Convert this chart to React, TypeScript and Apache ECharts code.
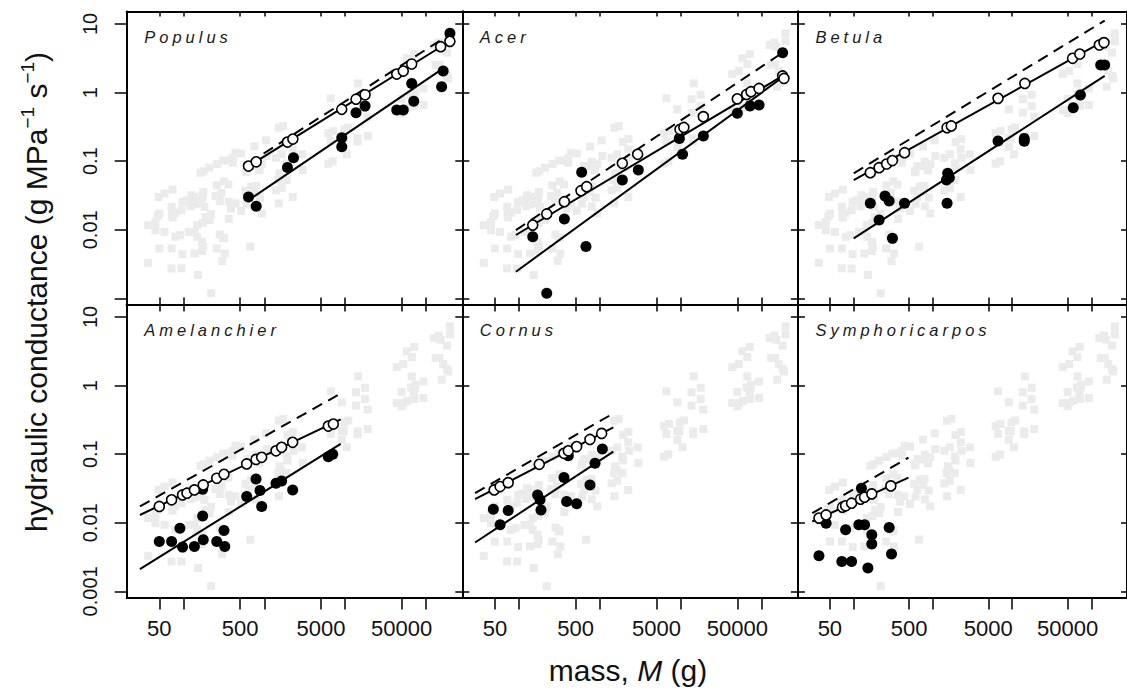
import React, { useEffect, useRef } from "react";
import * as echarts from "echarts";

// ---------- data (mass M in g, hydraulic conductance K in g MPa^-1 s^-1) ----------
const speciesNames = ["Populus", "Acer", "Betula", "Amelanchier", "Cornus", "Symphoricarpos"];

const populusOpen = [[635, 0.085], [791, 0.098], [1928, 0.19], [2249, 0.21], [9060, 0.57], [13600, 0.8], [17600, 0.93], [43400, 1.86], [52300, 2.06], [66500, 2.61], [151800, 4.67], [197700, 5.58]];
const populusFilled = [[635, 0.03], [791, 0.022], [1928, 0.081], [2290, 0.112], [9060, 0.219], [9060, 0.162], [13600, 0.51], [17600, 0.635], [43400, 0.556], [52300, 0.556], [66500, 1.36], [70500, 0.75], [163000, 2.06], [156000, 1.22], [197700, 7.3]];
const populusFitOpen = [[635, 0.0845], [209000, 5.84]];
const populusFitFilled = [[635, 0.027], [163000, 2.25]];
const populusFitDashed = [[635, 0.0935], [209000, 7.39]];

const acerOpen = [[147, 0.0117], [219, 0.017], [362, 0.0257], [582, 0.0372], [684, 0.0425], [1889, 0.093], [2924, 0.126], [9770, 0.29], [10900, 0.31], [19000, 0.446], [50000, 0.81], [65300, 0.94], [73900, 1.03], [92900, 1.15], [182000, 1.75], [189000, 1.61]];
const acerFilled = [[147, 0.0079], [219, 0.00119], [362, 0.0144], [593, 0.069], [670, 0.0057], [1889, 0.053], [2980, 0.0744], [9590, 0.215], [10500, 0.126], [19000, 0.233], [50000, 0.5], [71800, 0.64], [92900, 0.66], [182000, 3.82]];
const acerFitOpen = [[91, 0.0084], [200000, 1.87]];
const acerFitFilled = [[91, 0.00245], [182000, 1.67]];
const acerFitDashed = [[91, 0.0099], [177000, 3.74]];

const betulaOpen = [[162, 0.068], [209, 0.0805], [260, 0.091], [308, 0.102], [438, 0.133], [1507, 0.308], [1705, 0.326], [6630, 0.824], [14450, 1.36], [57800, 3.16], [71300, 3.65], [126000, 4.94], [144000, 5.35]];
const betulaFilled = [[162, 0.0243], [209, 0.0139], [248, 0.0311], [280, 0.0263], [308, 0.0075], [438, 0.0243], [1507, 0.0243], [1536, 0.0666], [1610, 0.0575], [1480, 0.053], [6630, 0.197], [14200, 0.215], [14200, 0.195], [58900, 0.6], [72600, 0.92], [131000, 2.53], [147000, 2.53]];
const betulaFitOpen = [[100, 0.053], [150000, 5.8]];
const betulaFitFilled = [[100, 0.0075], [147000, 1.75]];
const betulaFitDashed = [[100, 0.0666], [147000, 11.2]];

const amelanchierOpen = [[50, 0.0173], [71, 0.0216], [97, 0.0255], [110, 0.027], [136, 0.0301], [175, 0.0356], [257, 0.0446], [316, 0.0509], [603, 0.072], [787, 0.084], [925, 0.09], [1391, 0.112], [1634, 0.126], [2237, 0.149], [6180, 0.257], [7130, 0.275]];
const amelanchierFilled = [[50, 0.00534], [71, 0.00534], [90, 0.00835], [97, 0.00442], [136, 0.00452], [172, 0.0126], [172, 0.0308], [175, 0.00565], [257, 0.00534], [316, 0.0077], [323, 0.00452], [603, 0.0241], [787, 0.0436], [881, 0.0295], [925, 0.0173], [1391, 0.0377], [1634, 0.0408], [2237, 0.0301], [6180, 0.092], [7000, 0.0995]];
const amelanchierFitOpen = [[28.8, 0.013], [8790, 0.321]];
const amelanchierFitFilled = [[28.8, 0.00211], [8790, 0.141]];
const amelanchierFitDashed = [[28.8, 0.0173], [8790, 0.768]];

const cornusOpen = [[49, 0.0301], [58, 0.0337], [73, 0.0385], [177, 0.0713], [358, 0.103], [405, 0.112], [514, 0.129], [751, 0.164], [1048, 0.201]];
const cornusFilled = [[47.8, 0.0158], [73, 0.0151], [58, 0.00933], [169, 0.0255], [181, 0.0216], [186, 0.0154], [358, 0.0456], [386, 0.0204], [514, 0.0189], [405, 0.095], [751, 0.0356], [867, 0.0737], [1069, 0.119]];
const cornusFitOpen = [[28.4, 0.0221], [1462, 0.246]];
const cornusFitFilled = [[28.4, 0.00516], [1462, 0.109]];
const cornusFitDashed = [[28.4, 0.027], [1462, 0.393]];

const symphoricarposOpen = [[36.4, 0.0117], [44.8, 0.013], [72, 0.0169], [79, 0.0177], [94, 0.0193], [122, 0.0221], [137, 0.0236], [169, 0.0264], [294, 0.0345]];
const symphoricarposFilled = [[44.8, 0.00987], [36.4, 0.0033], [79, 0.00789], [70.8, 0.00273], [94, 0.00273], [116, 0.00933], [137, 0.00933], [125, 0.0319], [169, 0.00668], [169, 0.00489], [151, 0.00219], [280, 0.00853], [300, 0.0035]];
const symphoricarposFitOpen = [[30, 0.01044], [491, 0.0456]];
const symphoricarposFitFilled: number[][] = [];
const symphoricarposFitDashed = [[30, 0.0138], [491, 0.089]];

const xTickValues = [50, 100, 500, 1000, 5000, 10000, 50000, 100000];
const xTickLabels = ["50", "500", "5000", "50000"];
const yTickValues = [0.001, 0.01, 0.1, 1, 10];
const yTickLabelsTop = ["0.01", "0.1", "1", "10"];
const yTickLabelsBottom = ["0.001", "0.01", "0.1", "1", "10"];

const panels = [
  { name: speciesNames[0], open: populusOpen, filled: populusFilled, fitOpen: populusFitOpen, fitFilled: populusFitFilled, fitDashed: populusFitDashed },
  { name: speciesNames[1], open: acerOpen, filled: acerFilled, fitOpen: acerFitOpen, fitFilled: acerFitFilled, fitDashed: acerFitDashed },
  { name: speciesNames[2], open: betulaOpen, filled: betulaFilled, fitOpen: betulaFitOpen, fitFilled: betulaFitFilled, fitDashed: betulaFitDashed },
  { name: speciesNames[3], open: amelanchierOpen, filled: amelanchierFilled, fitOpen: amelanchierFitOpen, fitFilled: amelanchierFitFilled, fitDashed: amelanchierFitDashed },
  { name: speciesNames[4], open: cornusOpen, filled: cornusFilled, fitOpen: cornusFitOpen, fitFilled: cornusFitFilled, fitDashed: cornusFitDashed },
  { name: speciesNames[5], open: symphoricarposOpen, filled: symphoricarposFilled, fitOpen: symphoricarposFitOpen, fitFilled: symphoricarposFitFilled, fitDashed: symphoricarposFitDashed },
];

// ---------- layout ----------
const PLOT_LEFT = 126.7;
const PLOT_TOP = 11.5;
const PANEL_W = 335.6;
const PANEL_H = 293;
const X_MIN = 1.2955;
const X_MAX = 5.449;
const Y_MIN = -3.089;
const Y_MAX = 1.182;
const FONT = "'Liberation Sans', Arial, Helvetica, sans-serif";

const lg = (v: number) => Math.log10(v);
const toLog = (pts: number[][]) => pts.map(([m, k]) => [lg(m), lg(k)]);
const findLabel = (labels: string[], v: number) => {
  const l = labels.find((s) => Math.abs(lg(Number(s)) - v) < 1e-6);
  return l === undefined ? "" : l;
};

function buildOption() {
  const grids: any[] = [];
  const xAxes: any[] = [];
  const yAxes: any[] = [];
  const series: any[] = [];
  const graphics: any[] = [];
  const allPoints = panels.flatMap((p) => [...p.filled, ...p.open]);

  panels.forEach((p, i) => {
    const r = Math.floor(i / 3);
    const c = i % 3;
    const left = PLOT_LEFT + PANEL_W * c;
    const top = PLOT_TOP + PANEL_H * r;
    const yLabels = r === 0 ? yTickLabelsTop : yTickLabelsBottom;
    grids.push({ left, top, width: PANEL_W, height: PANEL_H, show: false, containLabel: false });
    const line = { show: true, onZero: false, lineStyle: { color: "#000", width: 2 } };
    const xBase = { type: "value", gridIndex: i, min: X_MIN, max: X_MAX, splitLine: { show: false }, axisLine: line };
    const yBase = { type: "value", gridIndex: i, min: Y_MIN, max: Y_MAX, splitLine: { show: false }, axisLine: line };
    xAxes.push({
      ...xBase,
      position: "bottom",
      axisTick: { show: true, customValues: xTickValues.map(lg), length: r === 1 ? 12 : 7, inside: false, lineStyle: { color: "#000", width: 1.5 } },
      axisLabel: {
        show: r === 1,
        customValues: xTickLabels.map((s) => lg(Number(s))),
        formatter: (v: number) => findLabel(xTickLabels, v),
        fontSize: 22,
        fontFamily: FONT,
        color: "#111",
        margin: 20,
      },
    });
    xAxes.push({
      ...xBase,
      position: "top",
      axisTick: { show: true, customValues: xTickValues.map(lg), length: r === 0 ? 5 : 7, inside: r === 0, lineStyle: { color: "#000", width: 1.5 } },
      axisLabel: { show: false },
    });
    yAxes.push({
      ...yBase,
      position: "left",
      axisTick: { show: true, customValues: yTickValues.map(lg), length: c === 0 ? 12 : 7, inside: false, lineStyle: { color: "#000", width: 1.5 } },
      axisLabel: {
        show: c === 0,
        customValues: yLabels.map((s) => lg(Number(s))),
        formatter: (v: number) => findLabel(yLabels, v),
        rotate: 90,
        fontSize: 20,
        fontFamily: FONT,
        color: "#111",
        margin: 27,
      },
    });
    yAxes.push({
      ...yBase,
      position: "right",
      axisTick: { show: true, customValues: yTickValues.map(lg), length: c === 2 ? 6 : 7, inside: c === 2, lineStyle: { color: "#000", width: 1.5 } },
      axisLabel: { show: false },
    });

    const xi = 2 * i;
    const yi = 2 * i;
    series.push({
      type: "scatter",
      xAxisIndex: xi,
      yAxisIndex: yi,
      data: toLog(allPoints),
      symbol: "rect",
      symbolSize: 8,
      itemStyle: { color: "#ebebeb", opacity: 1 },
      silent: true,
      z: 1,
    });
    const fits: [number[][], string][] = [
      [p.fitDashed, "dashed"],
      [p.fitOpen, "solid"],
      [p.fitFilled, "solid"],
    ];
    fits.forEach(([d, t]) => {
      if (!d.length) return;
      series.push({
        type: "line",
        xAxisIndex: xi,
        yAxisIndex: yi,
        data: toLog(d),
        symbol: "none",
        lineStyle: { color: "#000", width: 2, type: t === "dashed" ? [11, 7] : "solid" },
        silent: true,
        z: 2,
      });
    });
    series.push({
      type: "scatter",
      xAxisIndex: xi,
      yAxisIndex: yi,
      data: toLog(p.filled),
      symbol: "circle",
      symbolSize: 11,
      itemStyle: { color: "#000", opacity: 1 },
      z: 3,
    });
    series.push({
      type: "scatter",
      xAxisIndex: xi,
      yAxisIndex: yi,
      data: toLog(p.open),
      symbol: "circle",
      symbolSize: 10,
      itemStyle: { color: "#fff", borderColor: "#000", borderWidth: 1.6, opacity: 1 },
      z: 4,
    });

    graphics.push({
      type: "text",
      x: left + 17.5,
      y: top + 25,
      z: 10,
      style: {
        text: p.name,
        fontSize: 16.5,
        fontStyle: "italic",
        fontFamily: FONT,
        fill: "#1a1a1a",
        align: "left",
        verticalAlign: "middle",
      },
    });
  });

  graphics.push({
    type: "text",
    x: 628,
    y: 670,
    style: {
      text: "{n|mass, }{i|M}{n| (g)}",
      align: "center",
      verticalAlign: "middle",
      rich: {
        n: { fontSize: 30, fontFamily: FONT, fill: "#111" },
        i: { fontSize: 30, fontFamily: FONT, fontStyle: "italic", fill: "#111" },
      },
    },
  });
  graphics.push({
    type: "text",
    x: 36,
    y: 292,
    rotation: Math.PI / 2,
    style: {
      text: "{n|hydraulic conductance (g MPa}{s|−1}{n| s}{s|−1}{n|)}",
      align: "center",
      verticalAlign: "middle",
      rich: {
        n: { fontSize: 30, fontFamily: FONT, fill: "#111", lineHeight: 36 },
        s: { fontSize: 19, fontFamily: FONT, fill: "#111", verticalAlign: "top", lineHeight: 36 },
      },
    },
  });

  return {
    animation: false,
    backgroundColor: "#fff",
    grid: grids,
    xAxis: xAxes,
    yAxis: yAxes,
    series,
    graphic: graphics,
  };
}

export default function App() {
  const ref = useRef<HTMLDivElement>(null);
  useEffect(() => {
    if (!ref.current) return;
    const chart = echarts.init(ref.current, null, { renderer: "svg" });
    chart.setOption(buildOption() as any);
    const spaceTitles = () => {
      ref.current?.querySelectorAll("text").forEach((t) => {
        if (speciesNames.includes((t.textContent || "").trim())) {
          t.setAttribute("letter-spacing", "4");
        }
      });
    };
    spaceTitles();
    const timer = setTimeout(spaceTitles, 50);
    return () => {
      clearTimeout(timer);
      chart.dispose();
    };
  }, []);
  return <div ref={ref} style={{ position: "fixed", left: 0, top: 0, width: 1127, height: 692 }} />;
}
